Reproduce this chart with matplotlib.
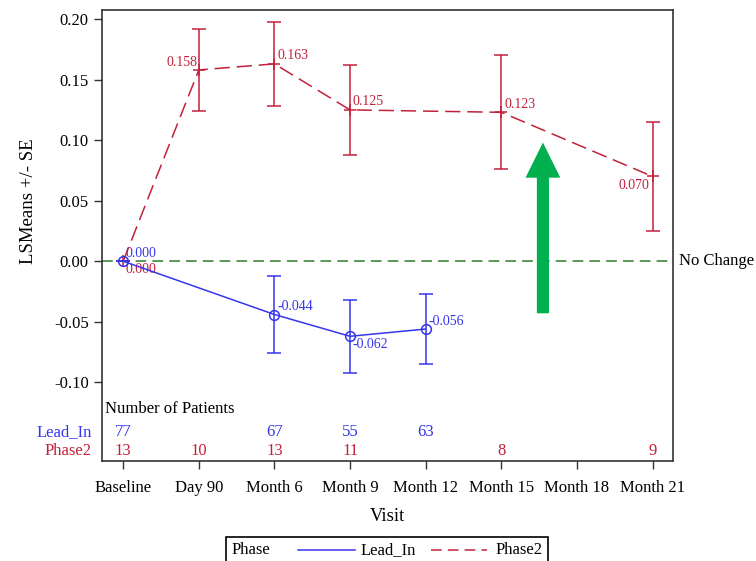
import matplotlib.pyplot as plt
from matplotlib.lines import Line2D
from matplotlib.patches import Rectangle, FancyArrow
import matplotlib.transforms as mtransforms

plt.rcParams['font.family'] = ['Liberation Serif', 'DejaVu Serif']

visits = ['Baseline', 'Day 90', 'Month 6', 'Month 9', 'Month 12',
          'Month 15', 'Month 18', 'Month 21']

# LS means and SE by visit (None = not observed)
lead_mean = [0.000, None, -0.044, -0.062, -0.056, None, None, None]
lead_se = [0.0, None, 0.032, 0.030, 0.029, None, None, None]
lead_n = [77, None, 67, 55, 63, None, None, None]

p2_mean = [0.000, 0.158, 0.163, 0.125, None, 0.123, None, 0.070]
p2_se = [0.0, 0.034, 0.035, 0.037, None, 0.047, None, 0.045]
p2_n = [13, 10, 13, 11, None, 8, None, 9]

BLUE = '#3535ee'
RED = '#c3203a'
GREEN = '#2a7d2a'

fig = plt.figure(figsize=(7.56, 5.61), dpi=100)
ax = fig.add_axes([102 / 756, 1 - 461 / 561, (673 - 102) / 756, (461 - 10) / 561])


def pick(vals, errs):
    xs = [i for i, v in enumerate(vals) if v is not None]
    return xs, [vals[i] for i in xs], [errs[i] for i in xs]


lx, ly, le = pick(lead_mean, lead_se)
px, py, pe = pick(p2_mean, p2_se)

ax.axhline(0, color=GREEN, lw=1.1, ls=(0, (7, 4)), zorder=1)

ax.errorbar(px, py, yerr=pe, color=RED, lw=1.1, ls=(0, (10, 4.5)), marker='+',
            ms=9, mew=1.1, capsize=5, elinewidth=1.1, capthick=1.1, zorder=3)
ax.errorbar(lx, ly, yerr=le, color=BLUE, lw=1.1, marker='o', ms=7,
            mfc='none', mew=1.1, capsize=5, elinewidth=1.1, capthick=1.1, zorder=4)

# value labels: (dx points, dy points, ha, va)
lead_pos = {0: (2, 1, 'left', 'bottom'), 2: (2, 1, 'left', 'bottom'),
            3: (2, -1, 'left', 'top'), 4: (2, 1, 'left', 'bottom')}
p2_pos = {0: (2, -1, 'left', 'top'), 1: (-1, 1, 'right', 'bottom'),
          2: (2, 1, 'left', 'bottom'), 3: (2, 1, 'left', 'bottom'),
          5: (2, 1, 'left', 'bottom'), 7: (-2, -2, 'right', 'top')}
for x, y in zip(lx, ly):
    dx, dy, ha, va = lead_pos[x]
    ax.annotate(f'{y:.3f}', (x, y), xytext=(dx, dy), textcoords='offset points',
                ha=ha, va=va, color=BLUE, fontsize=10)
for x, y in zip(px, py):
    dx, dy, ha, va = p2_pos[x]
    ax.annotate(f'{y:.3f}', (x, y), xytext=(dx, dy), textcoords='offset points',
                ha=ha, va=va, color=RED, fontsize=10)

ax.text(1.01, 0, 'No Change', transform=ax.get_yaxis_transform(),
        ha='left', va='center', fontsize=12, clip_on=False)

# patient counts table inside the axes
tr = mtransforms.blended_transform_factory(ax.transData, ax.transAxes)
ax.text(-0.24, 0.115, 'Number of Patients', transform=tr, ha='left',
        va='center', fontsize=12)
for i, n in enumerate(lead_n):
    if n is not None:
        ax.text(i, 0.064, str(n), transform=tr, ha='center', va='center',
                color=BLUE, fontsize=12)
for i, n in enumerate(p2_n):
    if n is not None:
        ax.text(i, 0.022, str(n), transform=tr, ha='center', va='center',
                color=RED, fontsize=12)
ax.text(-0.018, 0.064, 'Lead_In', transform=ax.transAxes, ha='right',
        va='center', color=BLUE, fontsize=12)
ax.text(-0.018, 0.022, 'Phase2', transform=ax.transAxes, ha='right',
        va='center', color=RED, fontsize=12)

# green arrow
ax.add_patch(FancyArrow(5.55, -0.043, 0, 0.112, width=0.16, head_width=0.46,
                        head_length=0.029, length_includes_head=False,
                        color='#00b04f', lw=0, zorder=5))

ax.set_xlim(-0.28, 7.27)
ax.set_ylim(-0.165, 0.2075)
ax.set_xticks(range(len(visits)))
ax.set_xticklabels(visits, fontsize=12)
ax.set_yticks([-0.10, -0.05, 0.00, 0.05, 0.10, 0.15, 0.20])
ax.set_yticklabels([f'{v:.2f}' for v in ax.get_yticks()], fontsize=12)
ax.tick_params(axis='both', direction='out', length=6, width=1, colors='#333333',
               labelcolor='black')
ax.tick_params(axis='x', pad=8)
for s in ax.spines.values():
    s.set_color('#333333')
    s.set_linewidth(1.2)
ax.set_xlabel('Visit', fontsize=13.5, labelpad=8)
ax.set_ylabel('LSMeans +/- SE', fontsize=13.5)
ax.yaxis.set_label_coords(-0.113, 0.577)

# legend box at bottom
fig.add_artist(Rectangle((226 / 756, -0.01), (548 - 226) / 756, (0.01 + (561 - 537) / 561),
                         transform=fig.transFigure, fill=False, ec='black', lw=1.2))
ly_f = 1 - 550 / 561
fig.text(232 / 756, ly_f, 'Phase', fontsize=12, va='center', ha='left')
fig.add_artist(Line2D([298 / 756, 355 / 756], [ly_f, ly_f], color=BLUE, lw=1.1,
                      transform=fig.transFigure))
fig.text(361 / 756, ly_f, 'Lead_In', fontsize=12, va='center', ha='left')
fig.add_artist(Line2D([431 / 756, 487 / 756], [ly_f, ly_f], color=RED, lw=1.1,
                      ls=(0, (7, 4)), transform=fig.transFigure))
fig.text(496 / 756, ly_f, 'Phase2', fontsize=12, va='center', ha='left')

fig.savefig('out.png', dpi=100)
